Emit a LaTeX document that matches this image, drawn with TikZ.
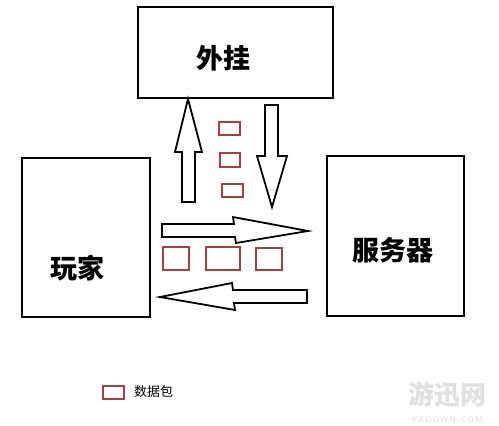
\documentclass[tikz,border=0pt]{standalone}
\usepackage{fontspec}
\newfontfamily\cjk{Noto Sans CJK SC}
\definecolor{pkt}{HTML}{A8403F}
\tikzset{
  x=1pt, y=-1pt,
  mainbox/.style={draw=black, line width=2.6pt, fill=white, inner sep=0pt},
  boxlabel/.style={font=\cjk\bfseries\fontsize{27}{27}\selectfont, inner sep=0pt},
  blockarrow/.style={draw=black, line width=1.8pt, fill=white, line join=miter},
  packet/.style={draw=pkt, line width=2.2pt, fill=white},
}
\begin{document}
\begin{tikzpicture}
\useasboundingbox[fill=white] (0,0) rectangle (499,426);

% boxes
\node[mainbox, minimum width=195pt, minimum height=91pt] (hack) at (235.5,52.5) {};
\node[boxlabel] (hacklbl) at (223,58) {外挂};
\node[mainbox, minimum width=128pt, minimum height=159pt] (player) at (86,237.5) {};
\node[boxlabel] (playerlbl) at (77,268) {玩家};
\node[mainbox, minimum width=137pt, minimum height=160pt] (server) at (395.5,236) {};
\node[boxlabel] (serverlbl) at (393,250) {服务器};

% block arrows
\draw[blockarrow] (182,202) -- (182,152) -- (175,152) -- (188,99) -- (202,152) -- (195,152) -- (195,202) -- cycle;
\draw[blockarrow] (265,105) -- (278,105) -- (278,156) -- (287,156) -- (272,207) -- (257,156) -- (265,156) -- cycle;
\draw[blockarrow] (162,224) -- (234,224) -- (233,217) -- (308,231) -- (236,243) -- (235,237) -- (162,237) -- cycle;
\draw[blockarrow] (307,290) -- (233,290) -- (232,283) -- (160,297) -- (235,310) -- (234,303) -- (307,303) -- cycle;

% packets (vertical)
\draw[packet] (219,122) rectangle (240,135);
\draw[packet] (220,153) rectangle (240,167);
\draw[packet] (222,184) rectangle (243,197);
% packets (horizontal)
\draw[packet] (163,247) rectangle (189,270);
\draw[packet] (206,247) rectangle (240,270);
\draw[packet] (256,248) rectangle (282,270);

% legend
\draw[packet, line width=2.6pt] (103,386) rectangle (124,399);
\node[font=\cjk\fontsize{13}{13}\selectfont, anchor=west, inner sep=0pt] (legend) at (134,392) {数据包};

% watermark
\node[font=\cjk\bfseries\itshape\fontsize{26}{26}\selectfont, text=black!12, inner sep=0pt] (wm) at (447,395) {游迅网};
\node[font=\sffamily\fontsize{8}{8}\selectfont, text=black!15, inner sep=0pt] (wmurl) at (447,420) {Y\,X\,D\,O\,W\,N\,.\,C\,O\,M};
\end{tikzpicture}
\end{document}
